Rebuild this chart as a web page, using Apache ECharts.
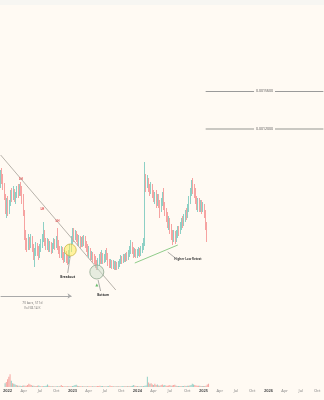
<!DOCTYPE html>
<html><head><meta charset="utf-8">
<script src="https://cdn.jsdelivr.net/npm/echarts@6/dist/echarts.min.js"></script>
<style>html,body{margin:0;padding:0;background:#fffaf3}#c{width:324px;height:400px}</style>
</head><body><div id="c"></div>
<script>
// weekly candles: [open, close, low, high]
const candles = [
[200,210,196,214],[210,206,200,216],[206,198,194,210],[198,188,184,201],[188,176,170,190],
[176,182,166,186],[182,172,168,188],[172,180,170,184],[180,190,178,194],[190,186,182,196],
[186,192,184,198],[192,184,182,195],[184,188,180,192],[188,194,186,198],[194,190,186,200],
[190,196,188,200],[196,192,188,202],[192,186,180,198],[186,172,168,190],[172,150,144,174],
[150,142,134,154],[142,138,132,146],[138,144,134,150],[144,140,134,147],[140,146,136,150],
[146,136,132,148],[136,128,124,140],[128,132,117,136],[132,138,128,142],[138,134,128,141],
[134,130,124,138],[130,136,126,140],[136,140,132,145],[140,146,136,150],[146,150,142,162],
[150,142,138,154],[142,138,134,146],[138,142,134,146],[142,136,132,145],[136,140,132,143],
[140,134,130,142],[134,138,131,141],[138,142,135,146],[142,138,134,145],[138,144,136,148],
[144,140,134,156],[140,134,130,144],[134,130,126,138],[130,134,126,138],[134,128,124,137],
[128,126,121,132],[126,130,122,134],[130,126,121,133],[126,124,119,130],[124,130,120,134],
[130,136,126,140],[136,144,132,148],[144,152,140,156],[152,148,142,156],[148,150,144,154],
[150,146,142,153],[146,142,138,150],[142,146,138,149],[146,140,136,148],[140,144,137,147],
[144,141,137,148],[141,145,138,149],[145,140,136,148],[140,136,132,143],[136,132,128,140],
[132,134,126,138],[134,128,124,136],[128,130,124,133],[130,126,121,132],[126,124,120,130],
[124,120,116,128],[120,118,114,124],[118,122,114,126],[122,126,118,130],[126,124,120,132],
[124,128,120,134],[128,124,120,131],[124,127,121,130],[127,130,122,134],[130,128,124,136],
[128,122,118,131],[122,120,116,125],[120,122,116,125],[122,119,115,124],[119,121,115,124],
[121,118,114,123],[118,120,114,123],[120,117,114,122],[117,120,115,123],[120,122,117,125],
[122,126,120,129],[126,124,120,128],[124,127,121,130],[127,125,122,130],[125,128,122,131],
[128,127,123,132],[127,130,124,134],[130,134,127,138],[134,140,130,144],[140,134,130,142],
[134,130,126,137],[130,132,127,136],[132,129,126,135],[129,131,126,135],[131,133,128,137],
[133,130,127,136],[130,134,128,138],[134,137,131,141],[137,140,134,146],[140,206,138,222],
[206,200,192,210],[200,204,196,209],[204,196,192,206],[196,194,188,200],[194,198,190,202],
[198,190,186,200],[190,186,182,194],[186,190,180,192],[190,182,176,194],[182,186,178,190],
[186,180,176,190],[180,176,166,184],[176,182,172,186],[182,184,178,192],[184,178,174,196],
[178,172,168,182],[172,168,162,176],[168,160,156,172],[160,164,154,168],[164,156,150,166],
[156,150,144,160],[150,146,139,154],[146,150,142,154],[150,146,140,153],[146,150,142,154],
[150,154,146,158],[154,152,148,158],[152,158,150,162],[158,162,154,166],[162,160,156,168],
[160,166,158,170],[166,170,162,174],[170,168,164,176],[168,176,166,180],[176,184,172,188],
[184,192,180,196],[192,200,188,204],[200,196,190,206],[196,192,186,200],[192,184,180,196],
[184,178,174,188],[178,182,172,186],[182,176,172,186],[176,180,172,184],[180,176,170,184],
[176,178,172,182],[178,172,166,180],[172,160,154,174],[160,146,142,162]
];
const volumes = [
3,4,6,8,10,5,3,2.5,2,1.5,
1.2,1,1,0.8,1,1.2,1,1,1.5,2.5,
2,1.5,1,1,0.8,0.8,1,1.2,0.8,0.6,
0.6,0.7,0.8,1,2,1,0.7,0.6,0.6,0.5,
0.5,0.6,0.5,0.6,0.7,1.5,0.8,0.6,0.5,0.5,
0.5,0.6,0.5,0.6,0.7,1,1.5,1.8,1,0.8,
0.7,0.6,0.5,0.6,0.5,0.5,0.6,0.5,0.6,0.6,
0.5,0.6,0.5,0.6,0.7,0.8,1,0.8,0.7,0.6,
0.6,0.5,0.6,0.7,1.2,0.8,0.6,0.5,0.5,0.6,
0.5,0.6,0.5,0.5,0.6,0.6,0.7,0.6,0.7,0.6,
0.7,0.8,1,1.5,1,0.8,0.7,0.6,0.6,0.7,
0.6,0.8,0.9,1.2,8,3.5,2.5,3,2,1.5,
2.5,1.5,2,1.2,1,1.5,2,1.2,1.5,1,
1,1.2,1.5,1,1.2,1.5,1.8,1,0.8,0.8,
0.7,0.8,0.7,0.8,0.9,0.8,1,0.9,1.2,1.5,
2.5,2,1.5,1.2,1,1,0.9,0.8,0.8,0.7,
0.8,1,2,2.5
];
const weekCount = 256;
const monthNames = ['Jan','Feb','Mar','Apr','May','Jun','Jul','Aug','Sep','Oct','Nov','Dec'];
const targetLevels = [293, 255];
const targetLabels = ['0.0015600', '0.0012000'];
const lhPoints = [[16,205],[33,175],[45,163]];

const categories = [];
for (let i = 0; i < weekCount; i++) {
  const d = new Date(Date.UTC(2021, 11, 20) + i * 7 * 86400000);
  categories.push(d.toISOString().slice(0, 10));
}
const C = i => categories[i];
const FONT = 'Noto Sans';
const txt = (idx, p, text, color, size, weight) => ({
  coord: [C(idx), p], symbol: 'rect', symbolSize: [1, 1], itemStyle: { color: 'transparent' },
  label: { show: true, position: 'inside', formatter: text, color: color, fontSize: size, fontWeight: weight || 'normal', fontFamily: FONT }
});

const chart = echarts.init(document.getElementById('c'), null, { renderer: 'canvas' });
chart.setOption({
  animation: false,
  backgroundColor: '#fffaf3',
  graphic: [{ type: 'rect', shape: { x: 0, y: 0, width: 324, height: 5 }, style: { fill: '#f7f6f2' } }],
  grid: [
    { left: 0, right: 0, top: 0, height: 384 },
    { left: 0, right: 0, top: 373, height: 14 }
  ],
  xAxis: [
    { type: 'category', gridIndex: 0, data: categories, show: false, boundaryGap: true },
    { type: 'category', gridIndex: 1, data: categories, boundaryGap: true,
      axisLine: { show: false }, axisTick: { show: false }, splitLine: { show: false },
      axisLabel: {
        margin: 2, fontSize: 4, color: '#8a8a8a', fontFamily: FONT,
        interval: (i, v) => { const d = new Date(v + 'T00:00:00Z'); return d.getUTCDate() <= 7 && d.getUTCMonth() % 3 === 0; },
        formatter: v => { const d = new Date(v + 'T00:00:00Z'); const m = d.getUTCMonth(); return m === 0 ? '{y|' + d.getUTCFullYear() + '}' : monthNames[m]; },
        rich: { y: { fontSize: 4, fontWeight: 'bold', color: '#555', fontFamily: FONT } }
      } }
  ],
  yAxis: [
    { type: 'value', gridIndex: 0, min: 0, max: 384, show: false, splitLine: { show: false } },
    { type: 'value', gridIndex: 1, min: 0, max: 11, show: false, splitLine: { show: false } }
  ],
  series: [
    {
      type: 'candlestick', xAxisIndex: 0, yAxisIndex: 0, data: candles, barWidth: 1,
      itemStyle: { color: '#3fb3a6', color0: '#f0686a', borderColor: '#3fb3a6', borderColor0: '#f0686a', borderWidth: 0.8, opacity: 0.75 },
      markLine: {
        silent: true, symbol: 'none', animation: false, label: { show: false },
        data: [
          [{ coord: [C(0), 229], lineStyle: { color: '#b7b2aa', width: 1, type: 'solid' } }, { coord: [C(91), 94] }],
          [{ coord: [C(106), 121], lineStyle: { color: '#8fcc8a', width: 1, type: 'solid' } }, { coord: [C(140), 139] }],
          [{ coord: [C(162), targetLevels[0]], lineStyle: { color: '#9a9a9a', width: 1, type: 'solid' },
             label: { show: true, position: 'insideMiddle', distance: 0, formatter: targetLabels[0], fontSize: 3.5, color: '#555', backgroundColor: '#fffaf3', padding: [0, 2], fontFamily: FONT } },
           { coord: [C(255), targetLevels[0]] }],
          [{ coord: [C(162), targetLevels[1]], lineStyle: { color: '#b9b7b2', width: 1.5, type: 'solid' },
             label: { show: true, position: 'insideMiddle', distance: 0, formatter: targetLabels[1], fontSize: 3.5, color: '#555', backgroundColor: '#fffaf3', padding: [0, 2], fontFamily: FONT } },
           { coord: [C(255), targetLevels[1]] }],
          [{ coord: [C(0), 88], symbol: 'none', lineStyle: { color: '#a9a9a9', width: 1, type: 'solid' } }, { coord: [C(56), 88], symbol: 'arrow', symbolSize: 4 }],
          [{ coord: [C(55), 128], lineStyle: { color: '#777', width: 0.6, type: 'solid' } }, { coord: [C(53), 111] }],
          [{ coord: [C(77), 104], lineStyle: { color: '#777', width: 0.6, type: 'solid' } }, { coord: [C(79), 93] }],
          [{ coord: [C(132), 132], lineStyle: { color: '#777', width: 0.6, type: 'solid' } }, { coord: [C(138), 126] }]
        ]
      },
      markPoint: {
        silent: true, animation: false,
        data: [
          { coord: [C(55), 134], symbol: 'circle', symbolSize: 12, itemStyle: { color: 'rgba(255,236,90,0.55)', borderColor: '#cbb84a', borderWidth: 0.8 }, label: { show: false } },
          { coord: [C(76), 112], symbol: 'circle', symbolSize: 14, itemStyle: { color: 'rgba(200,220,200,0.45)', borderColor: '#8fa88f', borderWidth: 0.8 }, label: { show: false } },
          { coord: [C(76), 99], symbol: 'triangle', symbolSize: 3, itemStyle: { color: '#66bb6a' }, label: { show: false } },
          txt(53, 107, 'Breakout', '#333', 3.2, 'bold'),
          txt(81, 89, 'Bottom', '#333', 3.2, 'bold'),
          txt(148, 125, 'Higher Low Retest', '#444', 3, 'bold'),
          txt(25, 81, '73 bars, 511d', '#777', 3.2),
          txt(25, 76, 'Vol 58.14 K', '#777', 3.2),
          ...lhPoints.map(p => txt(p[0], p[1], 'LH', '#e05050', 3, 'bold'))
        ]
      }
    },
    {
      type: 'bar', xAxisIndex: 1, yAxisIndex: 1, barWidth: 1,
      data: volumes.map((v, i) => ({ value: v, itemStyle: { color: candles[i][1] >= candles[i][0] ? 'rgba(38,166,154,0.5)' : 'rgba(239,83,80,0.5)' } }))
    }
  ]
});
</script>
</body></html>
